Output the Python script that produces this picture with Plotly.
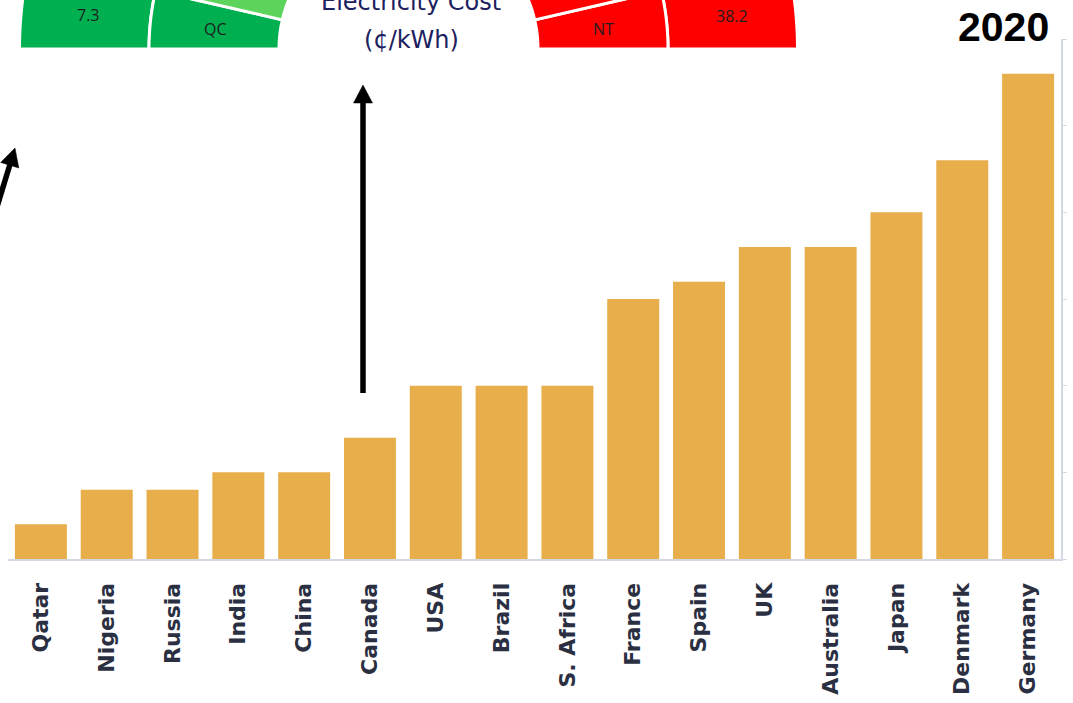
import math
import plotly.graph_objects as go

# Residential electricity price by country, 2020 (US cents per kWh)
countries = ["Qatar", "Nigeria", "Russia", "India", "China", "Canada", "USA", "Brazil",
             "S. Africa", "France", "Spain", "UK", "Australia", "Japan", "Denmark", "Germany"]
price_cents = [2, 4, 4, 5, 5, 7, 10, 10, 10, 15, 16, 18, 18, 20, 23, 28]
y_ticks = [0, 5, 10, 15, 20, 25, 30]

# Provincial gauge: inner ring (province) and outer ring (price) segments
gauge_inner_labels = ["QC", "", "NT", ""]
gauge_inner_spans = [(167, 180), (110, 167), (0, 13), (13, 70)]
gauge_inner_colors = ["#00B050", "#5DD55D", "#FF0000", "#FF0000"]
gauge_outer_labels = ["7.3", "38.2"]
gauge_outer_spans = [(110, 180), (0, 70)]
gauge_outer_colors = ["#00B050", "#FF0000"]

W, H = 1073, 703
BAR = "#E8AE4C"
AXIS = "#D3D8E2"
NAVY = "#2B2F42"


def px(x, y):
    return x / W, 1 - y / H


def ring_path(cx, cy, r0, r1, a0, a1, n=60):
    pts = []
    for i in range(n + 1):
        a = math.radians(a0 + (a1 - a0) * i / n)
        pts.append((cx + r1 * math.cos(a), cy - r1 * math.sin(a)))
    for i in range(n + 1):
        a = math.radians(a1 - (a1 - a0) * i / n)
        pts.append((cx + r0 * math.cos(a), cy - r0 * math.sin(a)))
    conv = [px(x, y) for x, y in pts]
    return "M " + " L ".join(f"{x:.5f},{y:.5f}" for x, y in conv) + " Z"


fig = go.Figure(go.Bar(x=countries, y=price_cents, marker_color=BAR,
                       marker_line_width=0))

shapes = []
# gauge rings
gcx, gcy = 408.5, 49
r_in, r_mid, r_out = 129.5, 259.5, 389
for (a0, a1), col in zip(gauge_outer_spans, gauge_outer_colors):
    shapes.append(dict(type="path", xref="paper", yref="paper",
                       path=ring_path(gcx, gcy, r_mid, r_out, a0, a1),
                       fillcolor=col, line=dict(color="white", width=3)))
for (a0, a1), col in zip(gauge_inner_spans, gauge_inner_colors):
    shapes.append(dict(type="path", xref="paper", yref="paper",
                       path=ring_path(gcx, gcy, r_in, r_mid, a0, a1),
                       fillcolor=col, line=dict(color="white", width=3)))


def arrow(tip, direction, length, head_len=18, head_w=19, width=5.5):
    dx, dy = direction
    norm = math.hypot(dx, dy)
    dx, dy = dx / norm, dy / norm
    tx, ty = tip
    bx, by = tx + dx * head_len, ty + dy * head_len
    ex, ey = tx + dx * length, ty + dy * length
    pxp, pyp = -dy, dx
    p1 = px(bx + pxp * head_w / 2, by + pyp * head_w / 2)
    p2 = px(bx - pxp * head_w / 2, by - pyp * head_w / 2)
    t = px(tx, ty)
    s0 = px(bx - dx * 2, by - dy * 2)
    s1 = px(ex, ey)
    return [
        dict(type="line", xref="paper", yref="paper", x0=s0[0], y0=s0[1], x1=s1[0], y1=s1[1],
             line=dict(color="black", width=width)),
        dict(type="path", xref="paper", yref="paper",
             path=f"M {t[0]:.5f},{t[1]:.5f} L {p1[0]:.5f},{p1[1]:.5f} L {p2[0]:.5f},{p2[1]:.5f} Z",
             fillcolor="black", line=dict(color="black", width=0.5)),
    ]


shapes += arrow((363, 85), (0, 1), 308)
shapes += arrow((15, 148), (-15, 49), 90)

annotations = []


def add_text(txt, x, y, font):
    xx, yy = px(x, y)
    annotations.append(dict(x=xx, y=yy, xref="paper", yref="paper", text=txt, showarrow=False,
                            xanchor="center", yanchor="middle", font=font))


label_pos = {"7.3": (88, 15), "QC": (215, 29), "NT": (603, 29), "38.2": (732, 16)}
for lab in gauge_outer_labels + gauge_inner_labels:
    if lab:
        add_text(lab, *label_pos[lab], dict(family="Open Sans", size=16, color="#1E1E1E"))

add_text("Electricity Cost", 411, 2, dict(family="DejaVu Sans", size=24, color="#1C2160"))
add_text("(¢/kWh)", 411, 40, dict(family="DejaVu Sans", size=24, color="#1C2160"))
add_text("<b>2020</b>", 1003, 27, dict(family="Liberation Sans", size=41, color="black"))

fig.update_layout(
    width=W, height=H,
    margin=dict(l=0, r=0, t=0, b=0),
    paper_bgcolor="white", plot_bgcolor="white",
    bargap=0.21,
    showlegend=False,
    shapes=shapes,
    annotations=annotations,
    xaxis=dict(domain=[8 / W, 1061 / W], showline=True, linecolor=AXIS, linewidth=2,
               showgrid=False, ticks="", tickangle=-90, ticklabelstandoff=13,
               tickfont=dict(family="DejaVu Sans", size=22, color=NAVY, weight="bold")),
    yaxis=dict(domain=[1 - 559 / H, 1 - 39 / H], range=[0, 30], side="right",
               tickvals=y_ticks, showticklabels=False, ticks="outside", ticklen=4,
               tickcolor=AXIS, showline=True, linecolor=AXIS, linewidth=2,
               showgrid=False, zeroline=False),
)

fig.write_html("out.html")
